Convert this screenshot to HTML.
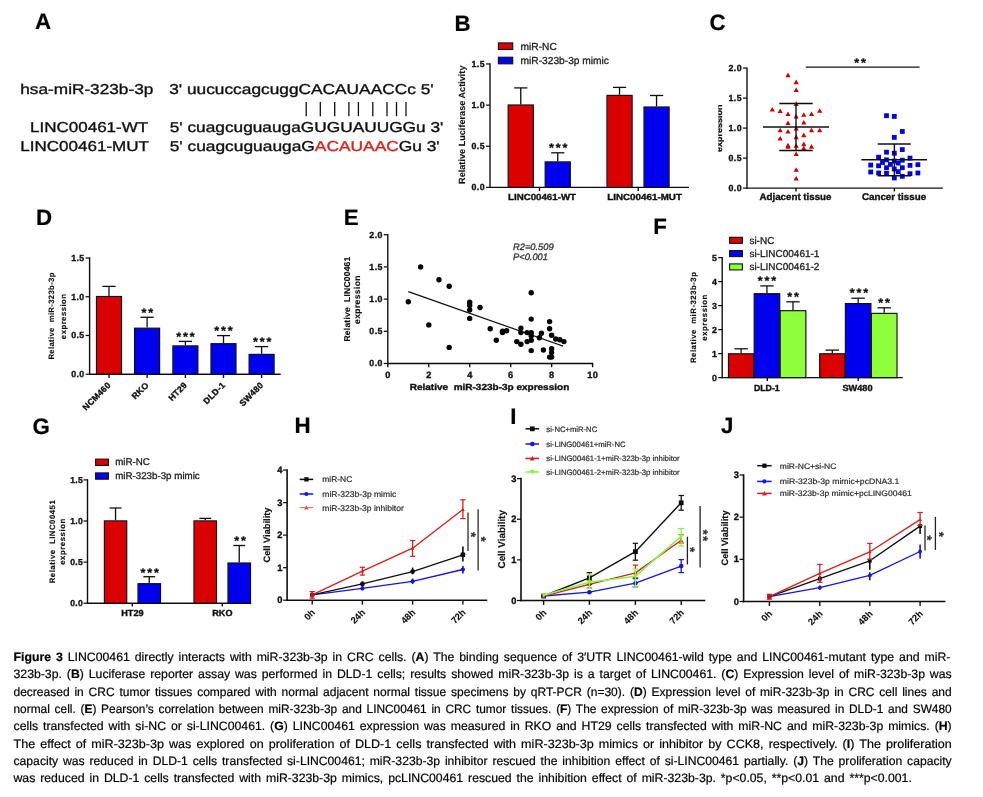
<!DOCTYPE html>
<html><head><meta charset="utf-8"><title>Figure 3</title>
<style>html,body{margin:0;padding:0;background:#fff;}svg{display:block;font-family:"Liberation Sans",sans-serif;}text{white-space:pre;text-rendering:geometricPrecision;}svg{will-change:transform;}</style></head><body>
<svg width="983" height="797" viewBox="0 0 983 797">
<rect x="0" y="0" width="983" height="797" fill="#ffffff"/>
<defs><filter id="soft" x="0" y="0" width="983" height="640" filterUnits="userSpaceOnUse"><feGaussianBlur stdDeviation="0.35"/></filter></defs>
<g filter="url(#soft)">
<text x="35.00" y="29.30" font-size="22.3" font-weight="bold" text-anchor="start" fill="#000" stroke="#000" stroke-width="0.2">A</text>
<text x="454.50" y="30.60" font-size="22.3" font-weight="bold" text-anchor="start" fill="#000" stroke="#000" stroke-width="0.2">B</text>
<text x="709.50" y="30.20" font-size="22.3" font-weight="bold" text-anchor="start" fill="#000" stroke="#000" stroke-width="0.2">C</text>
<text x="36.00" y="224.80" font-size="22.3" font-weight="bold" text-anchor="start" fill="#000" stroke="#000" stroke-width="0.2">D</text>
<text x="343.80" y="224.80" font-size="22.3" font-weight="bold" text-anchor="start" fill="#000" stroke="#000" stroke-width="0.2">E</text>
<text x="653.20" y="234.40" font-size="22.3" font-weight="bold" text-anchor="start" fill="#000" stroke="#000" stroke-width="0.2">F</text>
<text x="32.40" y="434.30" font-size="22.3" font-weight="bold" text-anchor="start" fill="#000" stroke="#000" stroke-width="0.2">G</text>
<text x="294.60" y="433.10" font-size="22.3" font-weight="bold" text-anchor="start" fill="#000" stroke="#000" stroke-width="0.2">H</text>
<text x="510.30" y="423.50" font-size="22.3" font-weight="bold" text-anchor="start" fill="#000" stroke="#000" stroke-width="0.2">I</text>
<text x="721.00" y="433.00" font-size="22.3" font-weight="bold" text-anchor="start" fill="#000" stroke="#000" stroke-width="0.2">J</text>
<text x="20.30" y="93.80" font-size="14.3" font-weight="normal" text-anchor="start" fill="#111" stroke="#111" stroke-width="0.35" textLength="133.00" lengthAdjust="spacingAndGlyphs">hsa-miR-323b-3p</text>
<text x="30.00" y="131.90" font-size="14.3" font-weight="normal" text-anchor="start" fill="#111" stroke="#111" stroke-width="0.35" textLength="118.20" lengthAdjust="spacingAndGlyphs">LINC00461-WT</text>
<text x="20.30" y="150.90" font-size="14.3" font-weight="normal" text-anchor="start" fill="#111" stroke="#111" stroke-width="0.35" textLength="128.70" lengthAdjust="spacingAndGlyphs">LINC00461-MUT</text>
<text x="169.20" y="93.80" font-size="14.3" font-weight="normal" text-anchor="start" fill="#111" stroke="#111" stroke-width="0.35" textLength="264.40" lengthAdjust="spacingAndGlyphs">3' uucuccagcuggCACAUAACCc 5'</text>
<text x="169.70" y="131.90" font-size="14.3" font-weight="normal" text-anchor="start" fill="#111" stroke="#111" stroke-width="0.35" textLength="273.70" lengthAdjust="spacingAndGlyphs">5' cuagcuguaugaGUGUAUUGGu 3'</text>
<text x="169.70" y="150.90" font-size="14.3" font-weight="normal" text-anchor="start" fill="#111" stroke="#111" stroke-width="0.35" textLength="270.00" lengthAdjust="spacingAndGlyphs">5' cuagcuguaugaG<tspan fill="#dc2020" stroke="#dc2020">ACAUAAC</tspan>Gu 3'</text>
<line x1="306.20" y1="102.00" x2="306.20" y2="116.20" stroke="#111" stroke-width="1.3" stroke-linecap="butt"/>
<line x1="320.30" y1="102.00" x2="320.30" y2="116.20" stroke="#111" stroke-width="1.3" stroke-linecap="butt"/>
<line x1="334.70" y1="102.00" x2="334.70" y2="116.20" stroke="#111" stroke-width="1.3" stroke-linecap="butt"/>
<line x1="348.90" y1="102.00" x2="348.90" y2="116.20" stroke="#111" stroke-width="1.3" stroke-linecap="butt"/>
<line x1="358.40" y1="102.00" x2="358.40" y2="116.20" stroke="#111" stroke-width="1.3" stroke-linecap="butt"/>
<line x1="372.80" y1="102.00" x2="372.80" y2="116.20" stroke="#111" stroke-width="1.3" stroke-linecap="butt"/>
<line x1="387.00" y1="102.00" x2="387.00" y2="116.20" stroke="#111" stroke-width="1.3" stroke-linecap="butt"/>
<line x1="396.50" y1="102.00" x2="396.50" y2="116.20" stroke="#111" stroke-width="1.3" stroke-linecap="butt"/>
<line x1="406.00" y1="102.00" x2="406.00" y2="116.20" stroke="#111" stroke-width="1.3" stroke-linecap="butt"/>
<line x1="490.00" y1="63.25" x2="490.00" y2="188.10" stroke="#111" stroke-width="1.4" stroke-linecap="butt"/>
<line x1="486.00" y1="63.95" x2="490.00" y2="63.95" stroke="#111" stroke-width="1.25" stroke-linecap="butt"/>
<text x="485.00" y="66.90" font-size="8.8" font-weight="bold" text-anchor="end" fill="#111" stroke="#111" stroke-width="0.36" letter-spacing="0.4">1.5</text>
<line x1="486.00" y1="105.10" x2="490.00" y2="105.10" stroke="#111" stroke-width="1.25" stroke-linecap="butt"/>
<text x="485.00" y="108.05" font-size="8.8" font-weight="bold" text-anchor="end" fill="#111" stroke="#111" stroke-width="0.36" letter-spacing="0.4">1.0</text>
<line x1="486.00" y1="146.25" x2="490.00" y2="146.25" stroke="#111" stroke-width="1.25" stroke-linecap="butt"/>
<text x="485.00" y="149.20" font-size="8.8" font-weight="bold" text-anchor="end" fill="#111" stroke="#111" stroke-width="0.36" letter-spacing="0.4">0.5</text>
<line x1="486.00" y1="187.40" x2="490.00" y2="187.40" stroke="#111" stroke-width="1.25" stroke-linecap="butt"/>
<text x="485.00" y="190.35" font-size="8.8" font-weight="bold" text-anchor="end" fill="#111" stroke="#111" stroke-width="0.36" letter-spacing="0.4">0.0</text>
<line x1="489.40" y1="187.40" x2="689.00" y2="187.40" stroke="#111" stroke-width="1.4" stroke-linecap="butt"/>
<line x1="539.50" y1="187.40" x2="539.50" y2="191.00" stroke="#111" stroke-width="1.4" stroke-linecap="butt"/>
<line x1="638.20" y1="187.40" x2="638.20" y2="191.00" stroke="#111" stroke-width="1.4" stroke-linecap="butt"/>
<line x1="520.75" y1="87.90" x2="520.75" y2="104.40" stroke="#111" stroke-width="1.3" stroke-linecap="butt"/>
<line x1="514.15" y1="87.90" x2="527.35" y2="87.90" stroke="#111" stroke-width="1.3" stroke-linecap="butt"/>
<rect x="508.18" y="104.97" width="25.15" height="82.43" fill="#da0000" stroke="#111" stroke-width="1.15"/>
<line x1="557.75" y1="152.80" x2="557.75" y2="161.30" stroke="#111" stroke-width="1.3" stroke-linecap="butt"/>
<line x1="551.15" y1="152.80" x2="564.35" y2="152.80" stroke="#111" stroke-width="1.3" stroke-linecap="butt"/>
<rect x="545.18" y="161.88" width="25.15" height="25.52" fill="#0000f0" stroke="#111" stroke-width="1.15"/>
<line x1="619.55" y1="87.40" x2="619.55" y2="94.80" stroke="#111" stroke-width="1.3" stroke-linecap="butt"/>
<line x1="612.95" y1="87.40" x2="626.15" y2="87.40" stroke="#111" stroke-width="1.3" stroke-linecap="butt"/>
<rect x="606.98" y="95.38" width="25.15" height="92.03" fill="#da0000" stroke="#111" stroke-width="1.15"/>
<line x1="656.55" y1="95.50" x2="656.55" y2="106.40" stroke="#111" stroke-width="1.3" stroke-linecap="butt"/>
<line x1="649.95" y1="95.50" x2="663.15" y2="95.50" stroke="#111" stroke-width="1.3" stroke-linecap="butt"/>
<rect x="643.98" y="106.97" width="25.15" height="80.43" fill="#0000f0" stroke="#111" stroke-width="1.15"/>
<text x="559.05" y="152.20" font-size="12.5" font-weight="bold" text-anchor="middle" fill="#111" stroke="#111" stroke-width="0.36" letter-spacing="1.9">***</text>
<text x="508.00" y="200.20" font-size="8.8" font-weight="bold" text-anchor="start" fill="#111" stroke="#111" stroke-width="0.36" textLength="68.00" lengthAdjust="spacingAndGlyphs">LINC00461-WT</text>
<text x="607.20" y="200.20" font-size="8.8" font-weight="bold" text-anchor="start" fill="#111" stroke="#111" stroke-width="0.36" textLength="74.80" lengthAdjust="spacingAndGlyphs">LINC00461-MUT</text>
<rect x="498.40" y="42.90" width="14.30" height="6.60" fill="#da0000" stroke="#111" stroke-width="1.1"/>
<rect x="498.40" y="57.20" width="14.30" height="6.60" fill="#0000f0" stroke="#111" stroke-width="1.1"/>
<text x="520.60" y="49.50" font-size="10.2" font-weight="normal" text-anchor="start" fill="#222" stroke="#222" stroke-width="0.3">miR-NC</text>
<text x="520.60" y="63.90" font-size="10.2" font-weight="normal" text-anchor="start" fill="#222" stroke="#222" stroke-width="0.3">miR-323b-3p mimic</text>
<text x="465.50" y="124.70" font-size="9.0" font-weight="bold" text-anchor="middle" fill="#111" stroke="#111" stroke-width="0.1" letter-spacing="0.06" transform="rotate(-90 465.50 124.70)">Relative Luciferase Activity</text>
<line x1="747.00" y1="67.40" x2="747.00" y2="188.80" stroke="#111" stroke-width="1.4" stroke-linecap="butt"/>
<line x1="743.00" y1="68.10" x2="747.00" y2="68.10" stroke="#111" stroke-width="1.25" stroke-linecap="butt"/>
<text x="742.00" y="71.05" font-size="8.8" font-weight="bold" text-anchor="end" fill="#111" stroke="#111" stroke-width="0.36" letter-spacing="0.4">2.0</text>
<line x1="743.00" y1="98.10" x2="747.00" y2="98.10" stroke="#111" stroke-width="1.25" stroke-linecap="butt"/>
<text x="742.00" y="101.05" font-size="8.8" font-weight="bold" text-anchor="end" fill="#111" stroke="#111" stroke-width="0.36" letter-spacing="0.4">1.5</text>
<line x1="743.00" y1="128.10" x2="747.00" y2="128.10" stroke="#111" stroke-width="1.25" stroke-linecap="butt"/>
<text x="742.00" y="131.05" font-size="8.8" font-weight="bold" text-anchor="end" fill="#111" stroke="#111" stroke-width="0.36" letter-spacing="0.4">1.0</text>
<line x1="743.00" y1="158.10" x2="747.00" y2="158.10" stroke="#111" stroke-width="1.25" stroke-linecap="butt"/>
<text x="742.00" y="161.05" font-size="8.8" font-weight="bold" text-anchor="end" fill="#111" stroke="#111" stroke-width="0.36" letter-spacing="0.4">0.5</text>
<line x1="743.00" y1="188.10" x2="747.00" y2="188.10" stroke="#111" stroke-width="1.25" stroke-linecap="butt"/>
<text x="742.00" y="191.05" font-size="8.8" font-weight="bold" text-anchor="end" fill="#111" stroke="#111" stroke-width="0.36" letter-spacing="0.4">0.0</text>
<line x1="746.40" y1="188.10" x2="942.80" y2="188.10" stroke="#111" stroke-width="1.4" stroke-linecap="butt"/>
<line x1="796.00" y1="188.10" x2="796.00" y2="191.50" stroke="#111" stroke-width="1.4" stroke-linecap="butt"/>
<line x1="894.40" y1="188.10" x2="894.40" y2="191.50" stroke="#111" stroke-width="1.4" stroke-linecap="butt"/>
<text x="795.50" y="200.30" font-size="9.6" font-weight="bold" text-anchor="middle" fill="#111" stroke="#111" stroke-width="0.36" textLength="72.00" lengthAdjust="spacingAndGlyphs">Adjacent tissue</text>
<text x="894.00" y="200.30" font-size="9.6" font-weight="bold" text-anchor="middle" fill="#111" stroke="#111" stroke-width="0.36" textLength="64.20" lengthAdjust="spacingAndGlyphs">Cancer tissue</text>
<clipPath id="cexp"><rect x="718.3" y="95" width="8" height="66"/></clipPath>
<g clip-path="url(#cexp)"><text x="0" y="0" font-size="9.0" font-weight="bold" text-anchor="middle" fill="#111" stroke="#111" stroke-width="0.3" transform="translate(722.4 128.2) rotate(-90)">expression</text></g>
<line x1="805.80" y1="67.20" x2="919.50" y2="67.20" stroke="#111" stroke-width="1.3" stroke-linecap="butt"/>
<text x="860.95" y="66.50" font-size="12.5" font-weight="bold" text-anchor="middle" fill="#111" stroke="#111" stroke-width="0.36" letter-spacing="1.9">**</text>
<path d="M788.0 72.6 L790.6 77.2 L785.4 77.2 Z" fill="#cc0000"/>
<path d="M796.2 79.6 L798.8 84.2 L793.6 84.2 Z" fill="#cc0000"/>
<path d="M796.2 87.5 L798.8 92.1 L793.6 92.1 Z" fill="#cc0000"/>
<path d="M796.2 101.3 L798.8 105.9 L793.6 105.9 Z" fill="#cc0000"/>
<path d="M772.3 106.9 L774.9 111.5 L769.7 111.5 Z" fill="#cc0000"/>
<path d="M780.2 108.5 L782.8 113.1 L777.6 113.1 Z" fill="#cc0000"/>
<path d="M819.7 108.2 L822.3 112.8 L817.1 112.8 Z" fill="#cc0000"/>
<path d="M788.0 111.4 L790.6 116.0 L785.4 116.0 Z" fill="#cc0000"/>
<path d="M803.8 112.2 L806.4 116.8 L801.2 116.8 Z" fill="#cc0000"/>
<path d="M811.5 111.4 L814.1 116.0 L808.9 116.0 Z" fill="#cc0000"/>
<path d="M796.2 113.9 L798.8 118.5 L793.6 118.5 Z" fill="#cc0000"/>
<path d="M788.0 120.4 L790.6 125.0 L785.4 125.0 Z" fill="#cc0000"/>
<path d="M803.8 119.9 L806.4 124.5 L801.2 124.5 Z" fill="#cc0000"/>
<path d="M796.2 125.8 L798.8 130.4 L793.6 130.4 Z" fill="#cc0000"/>
<path d="M780.2 127.7 L782.8 132.3 L777.6 132.3 Z" fill="#cc0000"/>
<path d="M788.0 129.0 L790.6 133.6 L785.4 133.6 Z" fill="#cc0000"/>
<path d="M811.5 127.7 L814.1 132.3 L808.9 132.3 Z" fill="#cc0000"/>
<path d="M819.7 127.7 L822.3 132.3 L817.1 132.3 Z" fill="#cc0000"/>
<path d="M803.8 132.6 L806.4 137.2 L801.2 137.2 Z" fill="#cc0000"/>
<path d="M796.2 134.6 L798.8 139.2 L793.6 139.2 Z" fill="#cc0000"/>
<path d="M780.2 135.9 L782.8 140.5 L777.6 140.5 Z" fill="#cc0000"/>
<path d="M788.0 142.8 L790.6 147.4 L785.4 147.4 Z" fill="#cc0000"/>
<path d="M788.0 144.1 L790.6 148.7 L785.4 148.7 Z" fill="#cc0000"/>
<path d="M796.2 143.2 L798.8 147.8 L793.6 147.8 Z" fill="#cc0000"/>
<path d="M803.8 141.6 L806.4 146.2 L801.2 146.2 Z" fill="#cc0000"/>
<path d="M803.8 145.7 L806.4 150.3 L801.2 150.3 Z" fill="#cc0000"/>
<path d="M811.5 144.1 L814.1 148.7 L808.9 148.7 Z" fill="#cc0000"/>
<path d="M796.2 151.4 L798.8 156.0 L793.6 156.0 Z" fill="#cc0000"/>
<path d="M796.2 167.2 L798.8 171.8 L793.6 171.8 Z" fill="#cc0000"/>
<path d="M796.2 175.9 L798.8 180.5 L793.6 180.5 Z" fill="#cc0000"/>
<rect x="884.1" y="113.3" width="4.8" height="4.8" fill="#0000e6"/>
<rect x="891.9" y="114.0" width="4.8" height="4.8" fill="#0000e6"/>
<rect x="899.9" y="129.1" width="4.8" height="4.8" fill="#0000e6"/>
<rect x="891.9" y="135.0" width="4.8" height="4.8" fill="#0000e6"/>
<rect x="899.9" y="147.2" width="4.8" height="4.8" fill="#0000e6"/>
<rect x="884.1" y="149.8" width="4.8" height="4.8" fill="#0000e6"/>
<rect x="891.9" y="150.8" width="4.8" height="4.8" fill="#0000e6"/>
<rect x="876.2" y="154.8" width="4.8" height="4.8" fill="#0000e6"/>
<rect x="907.6" y="155.7" width="4.8" height="4.8" fill="#0000e6"/>
<rect x="884.1" y="157.4" width="4.8" height="4.8" fill="#0000e6"/>
<rect x="899.9" y="157.8" width="4.8" height="4.8" fill="#0000e6"/>
<rect x="891.9" y="158.7" width="4.8" height="4.8" fill="#0000e6"/>
<rect x="880.1" y="160.1" width="4.8" height="4.8" fill="#0000e6"/>
<rect x="895.8" y="160.7" width="4.8" height="4.8" fill="#0000e6"/>
<rect x="868.3" y="162.7" width="4.8" height="4.8" fill="#0000e6"/>
<rect x="876.2" y="163.4" width="4.8" height="4.8" fill="#0000e6"/>
<rect x="888.0" y="162.0" width="4.8" height="4.8" fill="#0000e6"/>
<rect x="907.6" y="163.0" width="4.8" height="4.8" fill="#0000e6"/>
<rect x="915.5" y="162.3" width="4.8" height="4.8" fill="#0000e6"/>
<rect x="884.1" y="165.3" width="4.8" height="4.8" fill="#0000e6"/>
<rect x="899.9" y="165.3" width="4.8" height="4.8" fill="#0000e6"/>
<rect x="891.9" y="166.6" width="4.8" height="4.8" fill="#0000e6"/>
<rect x="868.3" y="169.6" width="4.8" height="4.8" fill="#0000e6"/>
<rect x="876.2" y="170.6" width="4.8" height="4.8" fill="#0000e6"/>
<rect x="884.1" y="170.9" width="4.8" height="4.8" fill="#0000e6"/>
<rect x="895.8" y="169.3" width="4.8" height="4.8" fill="#0000e6"/>
<rect x="907.6" y="171.3" width="4.8" height="4.8" fill="#0000e6"/>
<rect x="915.5" y="170.6" width="4.8" height="4.8" fill="#0000e6"/>
<rect x="899.9" y="173.9" width="4.8" height="4.8" fill="#0000e6"/>
<rect x="891.9" y="175.6" width="4.8" height="4.8" fill="#0000e6"/>
<line x1="763.00" y1="127.00" x2="829.00" y2="127.00" stroke="#111" stroke-width="1.4" stroke-linecap="butt"/>
<line x1="779.30" y1="103.50" x2="812.70" y2="103.50" stroke="#111" stroke-width="1.4" stroke-linecap="butt"/>
<line x1="779.30" y1="150.50" x2="812.70" y2="150.50" stroke="#111" stroke-width="1.4" stroke-linecap="butt"/>
<line x1="796.00" y1="103.50" x2="796.00" y2="150.50" stroke="#111" stroke-width="1.4" stroke-linecap="butt"/>
<line x1="861.30" y1="159.80" x2="927.00" y2="159.80" stroke="#111" stroke-width="1.4" stroke-linecap="butt"/>
<line x1="877.70" y1="144.00" x2="910.80" y2="144.00" stroke="#111" stroke-width="1.4" stroke-linecap="butt"/>
<line x1="877.70" y1="175.70" x2="910.80" y2="175.70" stroke="#111" stroke-width="1.4" stroke-linecap="butt"/>
<line x1="894.40" y1="144.00" x2="894.40" y2="175.70" stroke="#111" stroke-width="1.4" stroke-linecap="butt"/>
<line x1="89.60" y1="257.32" x2="89.60" y2="374.90" stroke="#111" stroke-width="1.4" stroke-linecap="butt"/>
<line x1="85.60" y1="258.02" x2="89.60" y2="258.02" stroke="#111" stroke-width="1.25" stroke-linecap="butt"/>
<text x="84.60" y="260.97" font-size="8.8" font-weight="bold" text-anchor="end" fill="#111" stroke="#111" stroke-width="0.36" letter-spacing="0.4">1.5</text>
<line x1="85.60" y1="296.75" x2="89.60" y2="296.75" stroke="#111" stroke-width="1.25" stroke-linecap="butt"/>
<text x="84.60" y="299.70" font-size="8.8" font-weight="bold" text-anchor="end" fill="#111" stroke="#111" stroke-width="0.36" letter-spacing="0.4">1.0</text>
<line x1="85.60" y1="335.47" x2="89.60" y2="335.47" stroke="#111" stroke-width="1.25" stroke-linecap="butt"/>
<text x="84.60" y="338.42" font-size="8.8" font-weight="bold" text-anchor="end" fill="#111" stroke="#111" stroke-width="0.36" letter-spacing="0.4">0.5</text>
<line x1="85.60" y1="374.20" x2="89.60" y2="374.20" stroke="#111" stroke-width="1.25" stroke-linecap="butt"/>
<text x="84.60" y="377.15" font-size="8.8" font-weight="bold" text-anchor="end" fill="#111" stroke="#111" stroke-width="0.36" letter-spacing="0.4">0.0</text>
<line x1="89.00" y1="374.20" x2="280.70" y2="374.20" stroke="#111" stroke-width="1.4" stroke-linecap="butt"/>
<line x1="109.00" y1="286.40" x2="109.00" y2="295.90" stroke="#111" stroke-width="1.3" stroke-linecap="butt"/>
<line x1="102.40" y1="286.40" x2="115.60" y2="286.40" stroke="#111" stroke-width="1.3" stroke-linecap="butt"/>
<rect x="96.47" y="296.48" width="25.05" height="77.72" fill="#da0000" stroke="#111" stroke-width="1.15"/>
<line x1="109.00" y1="374.20" x2="109.00" y2="378.00" stroke="#111" stroke-width="1.4" stroke-linecap="butt"/>
<text x="111.30" y="385.70" font-size="8.6" font-weight="bold" text-anchor="end" fill="#111" stroke="#111" stroke-width="0.36" letter-spacing="0.3" transform="rotate(-45 111.30 385.70)">NCM460</text>
<line x1="147.10" y1="317.30" x2="147.10" y2="327.60" stroke="#111" stroke-width="1.3" stroke-linecap="butt"/>
<line x1="140.50" y1="317.30" x2="153.70" y2="317.30" stroke="#111" stroke-width="1.3" stroke-linecap="butt"/>
<rect x="134.57" y="328.18" width="25.05" height="46.02" fill="#0000f0" stroke="#111" stroke-width="1.15"/>
<line x1="147.10" y1="374.20" x2="147.10" y2="378.00" stroke="#111" stroke-width="1.4" stroke-linecap="butt"/>
<text x="149.40" y="385.70" font-size="8.6" font-weight="bold" text-anchor="end" fill="#111" stroke="#111" stroke-width="0.36" letter-spacing="0.3" transform="rotate(-45 149.40 385.70)">RKO</text>
<line x1="185.40" y1="341.40" x2="185.40" y2="345.30" stroke="#111" stroke-width="1.3" stroke-linecap="butt"/>
<line x1="178.80" y1="341.40" x2="192.00" y2="341.40" stroke="#111" stroke-width="1.3" stroke-linecap="butt"/>
<rect x="172.87" y="345.88" width="25.05" height="28.32" fill="#0000f0" stroke="#111" stroke-width="1.15"/>
<line x1="185.40" y1="374.20" x2="185.40" y2="378.00" stroke="#111" stroke-width="1.4" stroke-linecap="butt"/>
<text x="187.70" y="385.70" font-size="8.6" font-weight="bold" text-anchor="end" fill="#111" stroke="#111" stroke-width="0.36" letter-spacing="0.3" transform="rotate(-45 187.70 385.70)">HT29</text>
<line x1="223.50" y1="335.60" x2="223.50" y2="343.10" stroke="#111" stroke-width="1.3" stroke-linecap="butt"/>
<line x1="216.90" y1="335.60" x2="230.10" y2="335.60" stroke="#111" stroke-width="1.3" stroke-linecap="butt"/>
<rect x="210.97" y="343.68" width="25.05" height="30.52" fill="#0000f0" stroke="#111" stroke-width="1.15"/>
<line x1="223.50" y1="374.20" x2="223.50" y2="378.00" stroke="#111" stroke-width="1.4" stroke-linecap="butt"/>
<text x="225.80" y="385.70" font-size="8.6" font-weight="bold" text-anchor="end" fill="#111" stroke="#111" stroke-width="0.36" letter-spacing="0.3" transform="rotate(-45 225.80 385.70)">DLD-1</text>
<line x1="261.60" y1="346.60" x2="261.60" y2="353.80" stroke="#111" stroke-width="1.3" stroke-linecap="butt"/>
<line x1="255.00" y1="346.60" x2="268.20" y2="346.60" stroke="#111" stroke-width="1.3" stroke-linecap="butt"/>
<rect x="249.07" y="354.38" width="25.05" height="19.82" fill="#0000f0" stroke="#111" stroke-width="1.15"/>
<line x1="261.60" y1="374.20" x2="261.60" y2="378.00" stroke="#111" stroke-width="1.4" stroke-linecap="butt"/>
<text x="263.90" y="385.70" font-size="8.6" font-weight="bold" text-anchor="end" fill="#111" stroke="#111" stroke-width="0.36" letter-spacing="0.3" transform="rotate(-45 263.90 385.70)">SW480</text>
<text x="148.35" y="317.20" font-size="12.5" font-weight="bold" text-anchor="middle" fill="#111" stroke="#111" stroke-width="0.36" letter-spacing="1.9">**</text>
<text x="186.45" y="341.20" font-size="12.5" font-weight="bold" text-anchor="middle" fill="#111" stroke="#111" stroke-width="0.36" letter-spacing="1.9">***</text>
<text x="224.45" y="335.10" font-size="12.5" font-weight="bold" text-anchor="middle" fill="#111" stroke="#111" stroke-width="0.36" letter-spacing="1.9">***</text>
<text x="263.15" y="345.60" font-size="12.5" font-weight="bold" text-anchor="middle" fill="#111" stroke="#111" stroke-width="0.36" letter-spacing="1.9">***</text>
<text x="54.40" y="315.90" font-size="7.8" font-weight="bold" text-anchor="middle" fill="#111" stroke="#111" stroke-width="0.1" letter-spacing="0.3" transform="rotate(-90 54.40 315.90)">Relative  miR-323b-3p</text>
<text x="65.60" y="316.30" font-size="7.8" font-weight="bold" text-anchor="middle" fill="#111" stroke="#111" stroke-width="0.1" letter-spacing="0.45" transform="rotate(-90 65.60 316.30)">expression</text>
<line x1="387.80" y1="234.00" x2="387.80" y2="364.20" stroke="#111" stroke-width="1.4" stroke-linecap="butt"/>
<line x1="383.80" y1="234.70" x2="387.80" y2="234.70" stroke="#111" stroke-width="1.25" stroke-linecap="butt"/>
<text x="382.80" y="237.65" font-size="8.8" font-weight="bold" text-anchor="end" fill="#111" stroke="#111" stroke-width="0.36" letter-spacing="0.4">2.0</text>
<line x1="383.80" y1="266.90" x2="387.80" y2="266.90" stroke="#111" stroke-width="1.25" stroke-linecap="butt"/>
<text x="382.80" y="269.85" font-size="8.8" font-weight="bold" text-anchor="end" fill="#111" stroke="#111" stroke-width="0.36" letter-spacing="0.4">1.5</text>
<line x1="383.80" y1="299.10" x2="387.80" y2="299.10" stroke="#111" stroke-width="1.25" stroke-linecap="butt"/>
<text x="382.80" y="302.05" font-size="8.8" font-weight="bold" text-anchor="end" fill="#111" stroke="#111" stroke-width="0.36" letter-spacing="0.4">1.0</text>
<line x1="383.80" y1="331.30" x2="387.80" y2="331.30" stroke="#111" stroke-width="1.25" stroke-linecap="butt"/>
<text x="382.80" y="334.25" font-size="8.8" font-weight="bold" text-anchor="end" fill="#111" stroke="#111" stroke-width="0.36" letter-spacing="0.4">0.5</text>
<line x1="383.80" y1="363.50" x2="387.80" y2="363.50" stroke="#111" stroke-width="1.25" stroke-linecap="butt"/>
<text x="382.80" y="366.45" font-size="8.8" font-weight="bold" text-anchor="end" fill="#111" stroke="#111" stroke-width="0.36" letter-spacing="0.4">0.0</text>
<line x1="387.20" y1="363.50" x2="593.20" y2="363.50" stroke="#111" stroke-width="1.4" stroke-linecap="butt"/>
<line x1="387.80" y1="363.50" x2="387.80" y2="367.20" stroke="#111" stroke-width="1.4" stroke-linecap="butt"/>
<text x="388.00" y="378.30" font-size="9.2" font-weight="bold" text-anchor="middle" fill="#111" stroke="#111" stroke-width="0.36" letter-spacing="0.4">0</text>
<line x1="428.76" y1="363.50" x2="428.76" y2="367.20" stroke="#111" stroke-width="1.4" stroke-linecap="butt"/>
<text x="428.96" y="378.30" font-size="9.2" font-weight="bold" text-anchor="middle" fill="#111" stroke="#111" stroke-width="0.36" letter-spacing="0.4">2</text>
<line x1="469.72" y1="363.50" x2="469.72" y2="367.20" stroke="#111" stroke-width="1.4" stroke-linecap="butt"/>
<text x="469.92" y="378.30" font-size="9.2" font-weight="bold" text-anchor="middle" fill="#111" stroke="#111" stroke-width="0.36" letter-spacing="0.4">4</text>
<line x1="510.68" y1="363.50" x2="510.68" y2="367.20" stroke="#111" stroke-width="1.4" stroke-linecap="butt"/>
<text x="510.88" y="378.30" font-size="9.2" font-weight="bold" text-anchor="middle" fill="#111" stroke="#111" stroke-width="0.36" letter-spacing="0.4">6</text>
<line x1="551.64" y1="363.50" x2="551.64" y2="367.20" stroke="#111" stroke-width="1.4" stroke-linecap="butt"/>
<text x="551.84" y="378.30" font-size="9.2" font-weight="bold" text-anchor="middle" fill="#111" stroke="#111" stroke-width="0.36" letter-spacing="0.4">8</text>
<line x1="592.60" y1="363.50" x2="592.60" y2="367.20" stroke="#111" stroke-width="1.4" stroke-linecap="butt"/>
<text x="592.80" y="378.30" font-size="9.2" font-weight="bold" text-anchor="middle" fill="#111" stroke="#111" stroke-width="0.36" letter-spacing="0.4">10</text>
<text x="489.50" y="390.20" font-size="8.8" font-weight="bold" text-anchor="middle" fill="#111" stroke="#111" stroke-width="0.36" textLength="159.50" lengthAdjust="spacingAndGlyphs">Relative  miR-323b-3p expression</text>
<text x="349.50" y="299.00" font-size="8.5" font-weight="bold" text-anchor="middle" fill="#111" stroke="#111" stroke-width="0.15" letter-spacing="0.22" transform="rotate(-90 349.50 299.00)">Relative  LINC00461</text>
<text x="359.60" y="299.50" font-size="8.5" font-weight="bold" text-anchor="middle" fill="#111" stroke="#111" stroke-width="0.15" letter-spacing="0.4" transform="rotate(-90 359.60 299.50)">expression</text>
<text x="513.00" y="249.60" font-size="9.3" font-weight="normal" text-anchor="start" fill="#333" stroke="#333" stroke-width="0.3" font-style="italic">R2=0.509</text>
<text x="513.00" y="260.40" font-size="9.3" font-weight="normal" text-anchor="start" fill="#333" stroke="#333" stroke-width="0.3" font-style="italic">P&lt;0.001</text>
<line x1="408.30" y1="291.70" x2="563.00" y2="346.10" stroke="#111" stroke-width="1.25" stroke-linecap="butt"/>
<circle cx="408.3" cy="301.7" r="2.7" fill="#000"/>
<circle cx="420.6" cy="266.9" r="2.7" fill="#000"/>
<circle cx="428.8" cy="324.9" r="2.7" fill="#000"/>
<circle cx="439.0" cy="279.8" r="2.7" fill="#000"/>
<circle cx="449.2" cy="286.2" r="2.7" fill="#000"/>
<circle cx="449.2" cy="347.4" r="2.7" fill="#000"/>
<circle cx="469.7" cy="302.3" r="2.7" fill="#000"/>
<circle cx="469.7" cy="305.5" r="2.7" fill="#000"/>
<circle cx="469.7" cy="310.0" r="2.7" fill="#000"/>
<circle cx="469.7" cy="318.4" r="2.7" fill="#000"/>
<circle cx="480.0" cy="307.5" r="2.7" fill="#000"/>
<circle cx="490.2" cy="328.7" r="2.7" fill="#000"/>
<circle cx="496.3" cy="340.3" r="2.7" fill="#000"/>
<circle cx="502.5" cy="331.3" r="2.7" fill="#000"/>
<circle cx="502.5" cy="332.6" r="2.7" fill="#000"/>
<circle cx="506.6" cy="330.7" r="2.7" fill="#000"/>
<circle cx="516.8" cy="341.6" r="2.7" fill="#000"/>
<circle cx="520.9" cy="328.1" r="2.7" fill="#000"/>
<circle cx="520.9" cy="332.6" r="2.7" fill="#000"/>
<circle cx="520.9" cy="344.2" r="2.7" fill="#000"/>
<circle cx="527.1" cy="332.6" r="2.7" fill="#000"/>
<circle cx="527.1" cy="341.6" r="2.7" fill="#000"/>
<circle cx="531.2" cy="292.7" r="2.7" fill="#000"/>
<circle cx="531.2" cy="319.1" r="2.7" fill="#000"/>
<circle cx="531.2" cy="332.6" r="2.7" fill="#000"/>
<circle cx="531.2" cy="335.8" r="2.7" fill="#000"/>
<circle cx="531.2" cy="340.3" r="2.7" fill="#000"/>
<circle cx="531.2" cy="350.6" r="2.7" fill="#000"/>
<circle cx="539.4" cy="337.7" r="2.7" fill="#000"/>
<circle cx="541.4" cy="333.2" r="2.7" fill="#000"/>
<circle cx="543.4" cy="350.0" r="2.7" fill="#000"/>
<circle cx="549.6" cy="321.6" r="2.7" fill="#000"/>
<circle cx="549.6" cy="328.7" r="2.7" fill="#000"/>
<circle cx="551.6" cy="335.2" r="2.7" fill="#000"/>
<circle cx="551.6" cy="348.7" r="2.7" fill="#000"/>
<circle cx="551.6" cy="352.6" r="2.7" fill="#000"/>
<circle cx="549.6" cy="357.1" r="2.7" fill="#000"/>
<circle cx="551.6" cy="357.1" r="2.7" fill="#000"/>
<circle cx="555.7" cy="339.0" r="2.7" fill="#000"/>
<circle cx="559.8" cy="339.7" r="2.7" fill="#000"/>
<circle cx="563.9" cy="341.6" r="2.7" fill="#000"/>
<line x1="722.20" y1="256.90" x2="722.20" y2="378.30" stroke="#111" stroke-width="1.4" stroke-linecap="butt"/>
<line x1="718.20" y1="257.60" x2="722.20" y2="257.60" stroke="#111" stroke-width="1.25" stroke-linecap="butt"/>
<text x="717.20" y="260.55" font-size="8.8" font-weight="bold" text-anchor="end" fill="#111" stroke="#111" stroke-width="0.36" letter-spacing="0.4">5</text>
<line x1="718.20" y1="281.60" x2="722.20" y2="281.60" stroke="#111" stroke-width="1.25" stroke-linecap="butt"/>
<text x="717.20" y="284.55" font-size="8.8" font-weight="bold" text-anchor="end" fill="#111" stroke="#111" stroke-width="0.36" letter-spacing="0.4">4</text>
<line x1="718.20" y1="305.60" x2="722.20" y2="305.60" stroke="#111" stroke-width="1.25" stroke-linecap="butt"/>
<text x="717.20" y="308.55" font-size="8.8" font-weight="bold" text-anchor="end" fill="#111" stroke="#111" stroke-width="0.36" letter-spacing="0.4">3</text>
<line x1="718.20" y1="329.60" x2="722.20" y2="329.60" stroke="#111" stroke-width="1.25" stroke-linecap="butt"/>
<text x="717.20" y="332.55" font-size="8.8" font-weight="bold" text-anchor="end" fill="#111" stroke="#111" stroke-width="0.36" letter-spacing="0.4">2</text>
<line x1="718.20" y1="353.60" x2="722.20" y2="353.60" stroke="#111" stroke-width="1.25" stroke-linecap="butt"/>
<text x="717.20" y="356.55" font-size="8.8" font-weight="bold" text-anchor="end" fill="#111" stroke="#111" stroke-width="0.36" letter-spacing="0.4">1</text>
<line x1="718.20" y1="377.60" x2="722.20" y2="377.60" stroke="#111" stroke-width="1.25" stroke-linecap="butt"/>
<text x="717.20" y="380.55" font-size="8.8" font-weight="bold" text-anchor="end" fill="#111" stroke="#111" stroke-width="0.36" letter-spacing="0.4">0</text>
<line x1="721.60" y1="377.60" x2="902.70" y2="377.60" stroke="#111" stroke-width="1.4" stroke-linecap="butt"/>
<line x1="767.30" y1="377.60" x2="767.30" y2="381.00" stroke="#111" stroke-width="1.4" stroke-linecap="butt"/>
<line x1="858.20" y1="377.60" x2="858.20" y2="381.00" stroke="#111" stroke-width="1.4" stroke-linecap="butt"/>
<line x1="741.10" y1="348.80" x2="741.10" y2="353.20" stroke="#111" stroke-width="1.3" stroke-linecap="butt"/>
<line x1="734.40" y1="348.80" x2="747.80" y2="348.80" stroke="#111" stroke-width="1.3" stroke-linecap="butt"/>
<rect x="728.48" y="353.77" width="25.25" height="23.83" fill="#da0000" stroke="#111" stroke-width="1.15"/>
<line x1="766.95" y1="285.90" x2="766.95" y2="293.10" stroke="#111" stroke-width="1.3" stroke-linecap="butt"/>
<line x1="760.25" y1="285.90" x2="773.65" y2="285.90" stroke="#111" stroke-width="1.3" stroke-linecap="butt"/>
<rect x="754.18" y="293.68" width="25.55" height="83.92" fill="#0000f0" stroke="#111" stroke-width="1.15"/>
<line x1="793.00" y1="301.80" x2="793.00" y2="310.10" stroke="#111" stroke-width="1.3" stroke-linecap="butt"/>
<line x1="786.30" y1="301.80" x2="799.70" y2="301.80" stroke="#111" stroke-width="1.3" stroke-linecap="butt"/>
<rect x="780.18" y="310.68" width="25.65" height="66.92" fill="#90ff3a" stroke="#111" stroke-width="1.15"/>
<line x1="832.30" y1="350.10" x2="832.30" y2="353.20" stroke="#111" stroke-width="1.3" stroke-linecap="butt"/>
<line x1="825.60" y1="350.10" x2="839.00" y2="350.10" stroke="#111" stroke-width="1.3" stroke-linecap="butt"/>
<rect x="819.68" y="353.77" width="25.25" height="23.83" fill="#da0000" stroke="#111" stroke-width="1.15"/>
<line x1="858.15" y1="298.20" x2="858.15" y2="303.00" stroke="#111" stroke-width="1.3" stroke-linecap="butt"/>
<line x1="851.45" y1="298.20" x2="864.85" y2="298.20" stroke="#111" stroke-width="1.3" stroke-linecap="butt"/>
<rect x="845.38" y="303.57" width="25.55" height="74.03" fill="#0000f0" stroke="#111" stroke-width="1.15"/>
<line x1="884.20" y1="307.80" x2="884.20" y2="312.80" stroke="#111" stroke-width="1.3" stroke-linecap="butt"/>
<line x1="877.50" y1="307.80" x2="890.90" y2="307.80" stroke="#111" stroke-width="1.3" stroke-linecap="butt"/>
<rect x="871.38" y="313.38" width="25.65" height="64.23" fill="#90ff3a" stroke="#111" stroke-width="1.15"/>
<text x="767.95" y="285.00" font-size="12.5" font-weight="bold" text-anchor="middle" fill="#111" stroke="#111" stroke-width="0.36" letter-spacing="1.9">***</text>
<text x="793.95" y="301.40" font-size="12.5" font-weight="bold" text-anchor="middle" fill="#111" stroke="#111" stroke-width="0.36" letter-spacing="1.9">**</text>
<text x="859.95" y="297.30" font-size="12.5" font-weight="bold" text-anchor="middle" fill="#111" stroke="#111" stroke-width="0.36" letter-spacing="1.9">***</text>
<text x="884.95" y="307.00" font-size="12.5" font-weight="bold" text-anchor="middle" fill="#111" stroke="#111" stroke-width="0.36" letter-spacing="1.9">**</text>
<text x="766.80" y="390.90" font-size="8.8" font-weight="bold" text-anchor="middle" fill="#111" stroke="#111" stroke-width="0.36" textLength="25.80" lengthAdjust="spacingAndGlyphs">DLD-1</text>
<text x="857.50" y="390.90" font-size="8.8" font-weight="bold" text-anchor="middle" fill="#111" stroke="#111" stroke-width="0.36" textLength="30.20" lengthAdjust="spacingAndGlyphs">SW480</text>
<rect x="729.60" y="237.30" width="12.80" height="6.00" fill="#da0000" stroke="#111" stroke-width="1.1"/>
<rect x="729.60" y="250.60" width="12.80" height="6.00" fill="#0000f0" stroke="#111" stroke-width="1.1"/>
<rect x="729.60" y="263.90" width="12.80" height="6.00" fill="#90ff3a" stroke="#111" stroke-width="1.1"/>
<text x="749.40" y="243.60" font-size="10.0" font-weight="normal" text-anchor="start" fill="#222" stroke="#222" stroke-width="0.3">si-NC</text>
<text x="749.40" y="256.90" font-size="10.0" font-weight="normal" text-anchor="start" fill="#222" stroke="#222" stroke-width="0.3">si-LINC00461-1</text>
<text x="749.40" y="270.20" font-size="10.0" font-weight="normal" text-anchor="start" fill="#222" stroke="#222" stroke-width="0.3">si-LINC00461-2</text>
<text x="695.90" y="317.30" font-size="7.8" font-weight="bold" text-anchor="middle" fill="#111" stroke="#111" stroke-width="0.15" letter-spacing="0.5" transform="rotate(-90 695.90 317.30)">Relative  miR-323b-3p</text>
<text x="706.90" y="317.40" font-size="7.8" font-weight="bold" text-anchor="middle" fill="#111" stroke="#111" stroke-width="0.15" letter-spacing="0.55" transform="rotate(-90 706.90 317.40)">expression</text>
<line x1="87.50" y1="479.20" x2="87.50" y2="603.90" stroke="#111" stroke-width="1.4" stroke-linecap="butt"/>
<line x1="83.50" y1="479.90" x2="87.50" y2="479.90" stroke="#111" stroke-width="1.25" stroke-linecap="butt"/>
<text x="82.90" y="482.78" font-size="8.6" font-weight="bold" text-anchor="end" fill="#111" stroke="#111" stroke-width="0.36" letter-spacing="0.2">1.5</text>
<line x1="83.50" y1="521.00" x2="87.50" y2="521.00" stroke="#111" stroke-width="1.25" stroke-linecap="butt"/>
<text x="82.90" y="523.88" font-size="8.6" font-weight="bold" text-anchor="end" fill="#111" stroke="#111" stroke-width="0.36" letter-spacing="0.2">1.0</text>
<line x1="83.50" y1="562.10" x2="87.50" y2="562.10" stroke="#111" stroke-width="1.25" stroke-linecap="butt"/>
<text x="82.90" y="564.98" font-size="8.6" font-weight="bold" text-anchor="end" fill="#111" stroke="#111" stroke-width="0.36" letter-spacing="0.2">0.5</text>
<line x1="83.50" y1="603.20" x2="87.50" y2="603.20" stroke="#111" stroke-width="1.25" stroke-linecap="butt"/>
<text x="82.90" y="606.08" font-size="8.6" font-weight="bold" text-anchor="end" fill="#111" stroke="#111" stroke-width="0.36" letter-spacing="0.2">0.0</text>
<line x1="86.90" y1="603.20" x2="251.20" y2="603.20" stroke="#111" stroke-width="1.4" stroke-linecap="butt"/>
<line x1="132.30" y1="603.20" x2="132.30" y2="606.60" stroke="#111" stroke-width="1.4" stroke-linecap="butt"/>
<line x1="222.30" y1="603.20" x2="222.30" y2="606.60" stroke="#111" stroke-width="1.4" stroke-linecap="butt"/>
<line x1="115.55" y1="508.00" x2="115.55" y2="520.30" stroke="#111" stroke-width="1.3" stroke-linecap="butt"/>
<line x1="109.65" y1="508.00" x2="121.45" y2="508.00" stroke="#111" stroke-width="1.3" stroke-linecap="butt"/>
<rect x="104.38" y="520.88" width="22.35" height="82.33" fill="#da0000" stroke="#111" stroke-width="1.15"/>
<line x1="149.25" y1="576.70" x2="149.25" y2="583.10" stroke="#111" stroke-width="1.3" stroke-linecap="butt"/>
<line x1="143.35" y1="576.70" x2="155.15" y2="576.70" stroke="#111" stroke-width="1.3" stroke-linecap="butt"/>
<rect x="137.97" y="583.67" width="22.55" height="19.53" fill="#0000f0" stroke="#111" stroke-width="1.15"/>
<line x1="205.25" y1="518.40" x2="205.25" y2="520.30" stroke="#111" stroke-width="1.3" stroke-linecap="butt"/>
<line x1="199.35" y1="518.40" x2="211.15" y2="518.40" stroke="#111" stroke-width="1.3" stroke-linecap="butt"/>
<rect x="193.97" y="520.88" width="22.55" height="82.33" fill="#da0000" stroke="#111" stroke-width="1.15"/>
<line x1="239.25" y1="545.50" x2="239.25" y2="562.40" stroke="#111" stroke-width="1.3" stroke-linecap="butt"/>
<line x1="233.35" y1="545.50" x2="245.15" y2="545.50" stroke="#111" stroke-width="1.3" stroke-linecap="butt"/>
<rect x="227.97" y="562.98" width="22.55" height="40.23" fill="#0000f0" stroke="#111" stroke-width="1.15"/>
<text x="150.65" y="576.80" font-size="12.5" font-weight="bold" text-anchor="middle" fill="#111" stroke="#111" stroke-width="0.36" letter-spacing="1.9">***</text>
<text x="241.05" y="545.00" font-size="12.5" font-weight="bold" text-anchor="middle" fill="#111" stroke="#111" stroke-width="0.36" letter-spacing="1.9">**</text>
<text x="132.40" y="615.70" font-size="8.8" font-weight="bold" text-anchor="middle" fill="#111" stroke="#111" stroke-width="0.36" textLength="22.30" lengthAdjust="spacingAndGlyphs">HT29</text>
<text x="222.40" y="615.70" font-size="8.8" font-weight="bold" text-anchor="middle" fill="#111" stroke="#111" stroke-width="0.36" textLength="20.20" lengthAdjust="spacingAndGlyphs">RKO</text>
<rect x="95.60" y="459.10" width="12.80" height="6.30" fill="#da0000" stroke="#111" stroke-width="1.1"/>
<rect x="95.60" y="472.90" width="12.80" height="6.30" fill="#0000f0" stroke="#111" stroke-width="1.1"/>
<text x="115.20" y="464.80" font-size="9.75" font-weight="normal" text-anchor="start" fill="#222" stroke="#222" stroke-width="0.3">miR-NC</text>
<text x="115.20" y="479.20" font-size="9.75" font-weight="normal" text-anchor="start" fill="#222" stroke="#222" stroke-width="0.3">miR-323b-3p mimic</text>
<text x="55.00" y="541.50" font-size="7.8" font-weight="bold" text-anchor="middle" fill="#111" stroke="#111" stroke-width="0.15" letter-spacing="0.5" transform="rotate(-90 55.00 541.50)">Relative  LINC00451</text>
<text x="64.80" y="541.50" font-size="7.8" font-weight="bold" text-anchor="middle" fill="#111" stroke="#111" stroke-width="0.15" letter-spacing="0.55" transform="rotate(-90 64.80 541.50)">expression</text>
<line x1="287.10" y1="469.28" x2="287.10" y2="601.00" stroke="#111" stroke-width="1.6" stroke-linecap="butt"/>
<line x1="283.10" y1="470.08" x2="287.10" y2="470.08" stroke="#111" stroke-width="1.25" stroke-linecap="butt"/>
<text x="282.40" y="473.20" font-size="9.3" font-weight="bold" text-anchor="end" fill="#111" stroke="#111" stroke-width="0.36">4</text>
<line x1="283.10" y1="502.61" x2="287.10" y2="502.61" stroke="#111" stroke-width="1.25" stroke-linecap="butt"/>
<text x="282.40" y="505.73" font-size="9.3" font-weight="bold" text-anchor="end" fill="#111" stroke="#111" stroke-width="0.36">3</text>
<line x1="283.10" y1="535.14" x2="287.10" y2="535.14" stroke="#111" stroke-width="1.25" stroke-linecap="butt"/>
<text x="282.40" y="538.26" font-size="9.3" font-weight="bold" text-anchor="end" fill="#111" stroke="#111" stroke-width="0.36">2</text>
<line x1="283.10" y1="567.67" x2="287.10" y2="567.67" stroke="#111" stroke-width="1.25" stroke-linecap="butt"/>
<text x="282.40" y="570.79" font-size="9.3" font-weight="bold" text-anchor="end" fill="#111" stroke="#111" stroke-width="0.36">1</text>
<line x1="283.10" y1="600.20" x2="287.10" y2="600.20" stroke="#111" stroke-width="1.25" stroke-linecap="butt"/>
<text x="282.40" y="603.32" font-size="9.3" font-weight="bold" text-anchor="end" fill="#111" stroke="#111" stroke-width="0.36">0</text>
<line x1="286.30" y1="600.20" x2="487.20" y2="600.20" stroke="#111" stroke-width="1.6" stroke-linecap="butt"/>
<line x1="312.20" y1="600.20" x2="312.20" y2="604.60" stroke="#111" stroke-width="1.4" stroke-linecap="butt"/>
<text x="315.60" y="613.00" font-size="9.3" font-weight="bold" text-anchor="end" fill="#111" stroke="#111" stroke-width="0.12" transform="rotate(-45 315.60 613.00)">0h</text>
<line x1="362.40" y1="600.20" x2="362.40" y2="604.60" stroke="#111" stroke-width="1.4" stroke-linecap="butt"/>
<text x="365.80" y="613.00" font-size="9.3" font-weight="bold" text-anchor="end" fill="#111" stroke="#111" stroke-width="0.12" transform="rotate(-45 365.80 613.00)">24h</text>
<line x1="412.60" y1="600.20" x2="412.60" y2="604.60" stroke="#111" stroke-width="1.4" stroke-linecap="butt"/>
<text x="416.00" y="613.00" font-size="9.3" font-weight="bold" text-anchor="end" fill="#111" stroke="#111" stroke-width="0.12" transform="rotate(-45 416.00 613.00)">48h</text>
<line x1="462.90" y1="600.20" x2="462.90" y2="604.60" stroke="#111" stroke-width="1.4" stroke-linecap="butt"/>
<text x="466.30" y="613.00" font-size="9.3" font-weight="bold" text-anchor="end" fill="#111" stroke="#111" stroke-width="0.12" transform="rotate(-45 466.30 613.00)">72h</text>
<polyline points="312.2,594.9 362.4,588.4 412.6,581.3 462.9,569.5" fill="none" stroke="#1414e0" stroke-width="1.35" stroke-linejoin="round"/>
<circle cx="312.2" cy="594.9" r="2.1" fill="#1414e0"/>
<line x1="362.40" y1="586.60" x2="362.40" y2="590.20" stroke="#1414e0" stroke-width="1.6" stroke-linecap="butt"/>
<circle cx="362.4" cy="588.4" r="2.1" fill="#1414e0"/>
<line x1="412.60" y1="578.60" x2="412.60" y2="584.10" stroke="#1414e0" stroke-width="1.6" stroke-linecap="butt"/>
<circle cx="412.6" cy="581.3" r="2.1" fill="#1414e0"/>
<line x1="462.90" y1="566.00" x2="462.90" y2="573.60" stroke="#1414e0" stroke-width="1.6" stroke-linecap="butt"/>
<circle cx="462.9" cy="569.5" r="2.1" fill="#1414e0"/>
<polyline points="312.2,594.9 362.4,583.9 412.6,571.6 462.9,554.8" fill="none" stroke="#111" stroke-width="1.35" stroke-linejoin="round"/>
<circle cx="312.2" cy="594.9" r="2.4" fill="#111"/>
<line x1="362.40" y1="581.40" x2="362.40" y2="586.40" stroke="#111" stroke-width="1.6" stroke-linecap="butt"/>
<circle cx="362.4" cy="583.9" r="2.4" fill="#111"/>
<line x1="412.60" y1="567.60" x2="412.60" y2="574.30" stroke="#111" stroke-width="1.6" stroke-linecap="butt"/>
<circle cx="412.6" cy="571.6" r="2.4" fill="#111"/>
<line x1="462.90" y1="546.50" x2="462.90" y2="561.50" stroke="#111" stroke-width="1.6" stroke-linecap="butt"/>
<circle cx="462.9" cy="554.8" r="2.4" fill="#111"/>
<rect x="460.7" y="552.6" width="4.4" height="4.4" fill="#111"/>
<polyline points="312.2,594.9 362.4,571.1 412.6,548.2 462.9,509.5" fill="none" stroke="#d42020" stroke-width="1.35" stroke-linejoin="round"/>
<line x1="312.20" y1="591.60" x2="312.20" y2="598.20" stroke="#d42020" stroke-width="1.3" stroke-linecap="butt"/>
<line x1="309.50" y1="591.60" x2="314.90" y2="591.60" stroke="#d42020" stroke-width="1.2" stroke-linecap="butt"/>
<line x1="309.50" y1="598.20" x2="314.90" y2="598.20" stroke="#d42020" stroke-width="1.2" stroke-linecap="butt"/>
<path d="M312.2 593.1 L314.0 596.4 L310.4 596.4 Z" fill="#d42020"/>
<line x1="362.40" y1="567.30" x2="362.40" y2="575.10" stroke="#d42020" stroke-width="1.3" stroke-linecap="butt"/>
<line x1="359.70" y1="567.30" x2="365.10" y2="567.30" stroke="#d42020" stroke-width="1.2" stroke-linecap="butt"/>
<line x1="359.70" y1="575.10" x2="365.10" y2="575.10" stroke="#d42020" stroke-width="1.2" stroke-linecap="butt"/>
<path d="M362.4 569.3 L364.2 572.6 L360.6 572.6 Z" fill="#d42020"/>
<line x1="412.60" y1="540.50" x2="412.60" y2="556.30" stroke="#d42020" stroke-width="1.3" stroke-linecap="butt"/>
<line x1="409.90" y1="540.50" x2="415.30" y2="540.50" stroke="#d42020" stroke-width="1.2" stroke-linecap="butt"/>
<line x1="409.90" y1="556.30" x2="415.30" y2="556.30" stroke="#d42020" stroke-width="1.2" stroke-linecap="butt"/>
<path d="M412.6 546.4 L414.4 549.7 L410.8 549.7 Z" fill="#d42020"/>
<line x1="462.90" y1="499.80" x2="462.90" y2="518.60" stroke="#d42020" stroke-width="1.3" stroke-linecap="butt"/>
<line x1="460.20" y1="499.80" x2="465.60" y2="499.80" stroke="#d42020" stroke-width="1.2" stroke-linecap="butt"/>
<line x1="460.20" y1="518.60" x2="465.60" y2="518.60" stroke="#d42020" stroke-width="1.2" stroke-linecap="butt"/>
<path d="M462.9 507.7 L464.7 511.0 L461.1 511.0 Z" fill="#d42020"/>
<rect x="310.3" y="593.5" width="3.8" height="3.8" fill="#c01a28"/>
<line x1="299.70" y1="479.40" x2="313.20" y2="479.40" stroke="#111" stroke-width="1.5" stroke-linecap="butt"/>
<rect x="304.3" y="477.2" width="4.3" height="4.3" fill="#111"/>
<text x="322.30" y="482.47" font-size="8.3" font-weight="normal" text-anchor="start" fill="#2a2a2a" stroke="#2a2a2a" stroke-width="0.2" textLength="30.00" lengthAdjust="spacingAndGlyphs">miR-NC</text>
<line x1="299.70" y1="494.00" x2="313.20" y2="494.00" stroke="#1414e0" stroke-width="1.5" stroke-linecap="butt"/>
<circle cx="306.4" cy="494.0" r="2.1" fill="#1414e0"/>
<text x="322.30" y="497.07" font-size="8.3" font-weight="normal" text-anchor="start" fill="#2a2a2a" stroke="#2a2a2a" stroke-width="0.2" textLength="74.00" lengthAdjust="spacingAndGlyphs">miR-323b-3p mimic</text>
<line x1="299.70" y1="507.60" x2="313.20" y2="507.60" stroke="#e05050" stroke-width="0.9" stroke-linecap="butt"/>
<path d="M306.4 505.4 L308.6 509.5 L304.2 509.5 Z" fill="#e05050"/>
<text x="322.30" y="510.67" font-size="8.3" font-weight="normal" text-anchor="start" fill="#2a2a2a" stroke="#2a2a2a" stroke-width="0.2" textLength="81.50" lengthAdjust="spacingAndGlyphs">miR-323b-3p inhibitor</text>
<line x1="468.00" y1="512.60" x2="468.00" y2="551.00" stroke="#2a2a2a" stroke-width="1.3" stroke-linecap="butt"/>
<line x1="478.10" y1="509.30" x2="478.10" y2="570.60" stroke="#2a2a2a" stroke-width="1.3" stroke-linecap="butt"/>
<text x="467.29" y="534.60" font-size="12.5" font-weight="bold" text-anchor="middle" fill="#333" stroke="#333" stroke-width="0.36" transform="rotate(90 467.29 534.60)">*</text>
<text x="477.29" y="539.30" font-size="12.5" font-weight="bold" text-anchor="middle" fill="#333" stroke="#333" stroke-width="0.36" transform="rotate(90 477.29 539.30)">*</text>
<text x="270.10" y="535.00" font-size="9.3" font-weight="bold" text-anchor="middle" fill="#111" stroke="#111" stroke-width="0.15" transform="rotate(-90 270.10 535.00)">Cell Viability</text>
<line x1="521.00" y1="477.81" x2="521.00" y2="601.30" stroke="#111" stroke-width="1.6" stroke-linecap="butt"/>
<line x1="517.00" y1="478.61" x2="521.00" y2="478.61" stroke="#111" stroke-width="1.25" stroke-linecap="butt"/>
<text x="516.30" y="481.73" font-size="9.3" font-weight="bold" text-anchor="end" fill="#111" stroke="#111" stroke-width="0.36">3</text>
<line x1="517.00" y1="519.24" x2="521.00" y2="519.24" stroke="#111" stroke-width="1.25" stroke-linecap="butt"/>
<text x="516.30" y="522.36" font-size="9.3" font-weight="bold" text-anchor="end" fill="#111" stroke="#111" stroke-width="0.36">2</text>
<line x1="517.00" y1="559.87" x2="521.00" y2="559.87" stroke="#111" stroke-width="1.25" stroke-linecap="butt"/>
<text x="516.30" y="562.99" font-size="9.3" font-weight="bold" text-anchor="end" fill="#111" stroke="#111" stroke-width="0.36">1</text>
<line x1="517.00" y1="600.50" x2="521.00" y2="600.50" stroke="#111" stroke-width="1.25" stroke-linecap="butt"/>
<text x="516.30" y="603.62" font-size="9.3" font-weight="bold" text-anchor="end" fill="#111" stroke="#111" stroke-width="0.36">0</text>
<line x1="520.20" y1="600.50" x2="705.30" y2="600.50" stroke="#111" stroke-width="1.6" stroke-linecap="butt"/>
<line x1="543.60" y1="600.50" x2="543.60" y2="604.90" stroke="#111" stroke-width="1.4" stroke-linecap="butt"/>
<text x="547.00" y="613.30" font-size="9.3" font-weight="bold" text-anchor="end" fill="#111" stroke="#111" stroke-width="0.12" transform="rotate(-45 547.00 613.30)">0h</text>
<line x1="589.40" y1="600.50" x2="589.40" y2="604.90" stroke="#111" stroke-width="1.4" stroke-linecap="butt"/>
<text x="592.80" y="613.30" font-size="9.3" font-weight="bold" text-anchor="end" fill="#111" stroke="#111" stroke-width="0.12" transform="rotate(-45 592.80 613.30)">24h</text>
<line x1="635.40" y1="600.50" x2="635.40" y2="604.90" stroke="#111" stroke-width="1.4" stroke-linecap="butt"/>
<text x="638.80" y="613.30" font-size="9.3" font-weight="bold" text-anchor="end" fill="#111" stroke="#111" stroke-width="0.12" transform="rotate(-45 638.80 613.30)">48h</text>
<line x1="681.20" y1="600.50" x2="681.20" y2="604.90" stroke="#111" stroke-width="1.4" stroke-linecap="butt"/>
<text x="684.60" y="613.30" font-size="9.3" font-weight="bold" text-anchor="end" fill="#111" stroke="#111" stroke-width="0.12" transform="rotate(-45 684.60 613.30)">72h</text>
<polyline points="543.6,596.0 589.4,577.9 635.4,551.7 681.2,502.8" fill="none" stroke="#111" stroke-width="1.35" stroke-linejoin="round"/>
<rect x="541.2" y="593.6" width="4.8" height="4.8" fill="#111"/>
<line x1="589.40" y1="572.60" x2="589.40" y2="584.40" stroke="#111" stroke-width="1.3" stroke-linecap="butt"/>
<line x1="586.70" y1="572.60" x2="592.10" y2="572.60" stroke="#111" stroke-width="1.2" stroke-linecap="butt"/>
<line x1="586.70" y1="584.40" x2="592.10" y2="584.40" stroke="#111" stroke-width="1.2" stroke-linecap="butt"/>
<rect x="587.0" y="575.5" width="4.8" height="4.8" fill="#111"/>
<line x1="635.40" y1="543.30" x2="635.40" y2="560.20" stroke="#111" stroke-width="1.3" stroke-linecap="butt"/>
<line x1="632.70" y1="543.30" x2="638.10" y2="543.30" stroke="#111" stroke-width="1.2" stroke-linecap="butt"/>
<line x1="632.70" y1="560.20" x2="638.10" y2="560.20" stroke="#111" stroke-width="1.2" stroke-linecap="butt"/>
<rect x="633.0" y="549.3" width="4.8" height="4.8" fill="#111"/>
<line x1="681.20" y1="495.50" x2="681.20" y2="510.20" stroke="#111" stroke-width="1.3" stroke-linecap="butt"/>
<line x1="678.50" y1="495.50" x2="683.90" y2="495.50" stroke="#111" stroke-width="1.2" stroke-linecap="butt"/>
<line x1="678.50" y1="510.20" x2="683.90" y2="510.20" stroke="#111" stroke-width="1.2" stroke-linecap="butt"/>
<rect x="678.8" y="500.4" width="4.8" height="4.8" fill="#111"/>
<polyline points="543.6,596.0 589.4,592.2 635.4,583.2 681.2,566.1" fill="none" stroke="#1414e0" stroke-width="1.35" stroke-linejoin="round"/>
<circle cx="543.6" cy="596.0" r="2.3" fill="#1414e0"/>
<circle cx="589.4" cy="592.2" r="2.3" fill="#1414e0"/>
<line x1="635.40" y1="578.60" x2="635.40" y2="586.80" stroke="#1414e0" stroke-width="1.3" stroke-linecap="butt"/>
<line x1="632.70" y1="578.60" x2="638.10" y2="578.60" stroke="#1414e0" stroke-width="1.2" stroke-linecap="butt"/>
<line x1="632.70" y1="586.80" x2="638.10" y2="586.80" stroke="#1414e0" stroke-width="1.2" stroke-linecap="butt"/>
<circle cx="635.4" cy="583.2" r="2.3" fill="#1414e0"/>
<line x1="681.20" y1="559.60" x2="681.20" y2="572.60" stroke="#1414e0" stroke-width="1.3" stroke-linecap="butt"/>
<line x1="678.50" y1="559.60" x2="683.90" y2="559.60" stroke="#1414e0" stroke-width="1.2" stroke-linecap="butt"/>
<line x1="678.50" y1="572.60" x2="683.90" y2="572.60" stroke="#1414e0" stroke-width="1.2" stroke-linecap="butt"/>
<circle cx="681.2" cy="566.1" r="2.3" fill="#1414e0"/>
<polyline points="543.6,596.0 589.4,584.3 635.4,572.9 681.2,540.3" fill="none" stroke="#d42020" stroke-width="1.35" stroke-linejoin="round"/>
<path d="M543.6 593.9 L545.7 597.8 L541.5 597.8 Z" fill="#d42020"/>
<line x1="589.40" y1="580.50" x2="589.40" y2="588.00" stroke="#d42020" stroke-width="1.3" stroke-linecap="butt"/>
<line x1="586.70" y1="580.50" x2="592.10" y2="580.50" stroke="#d42020" stroke-width="1.2" stroke-linecap="butt"/>
<line x1="586.70" y1="588.00" x2="592.10" y2="588.00" stroke="#d42020" stroke-width="1.2" stroke-linecap="butt"/>
<path d="M589.4 582.2 L591.5 586.1 L587.3 586.1 Z" fill="#d42020"/>
<line x1="635.40" y1="565.10" x2="635.40" y2="577.80" stroke="#d42020" stroke-width="1.3" stroke-linecap="butt"/>
<line x1="632.70" y1="565.10" x2="638.10" y2="565.10" stroke="#d42020" stroke-width="1.2" stroke-linecap="butt"/>
<line x1="632.70" y1="577.80" x2="638.10" y2="577.80" stroke="#d42020" stroke-width="1.2" stroke-linecap="butt"/>
<path d="M635.4 570.8 L637.5 574.7 L633.3 574.7 Z" fill="#d42020"/>
<line x1="681.20" y1="534.60" x2="681.20" y2="543.00" stroke="#d42020" stroke-width="1.3" stroke-linecap="butt"/>
<line x1="678.50" y1="534.60" x2="683.90" y2="534.60" stroke="#d42020" stroke-width="1.2" stroke-linecap="butt"/>
<line x1="678.50" y1="543.00" x2="683.90" y2="543.00" stroke="#d42020" stroke-width="1.2" stroke-linecap="butt"/>
<path d="M681.2 538.2 L683.3 542.1 L679.1 542.1 Z" fill="#d42020"/>
<polyline points="543.6,595.3 589.4,582.2 635.4,576.2 681.2,536.3" fill="none" stroke="#84f542" stroke-width="1.6" stroke-linejoin="round"/>
<path d="M543.6 597.6 L545.9 593.3 L541.3 593.3 Z" fill="#84f542"/>
<line x1="589.40" y1="574.00" x2="589.40" y2="588.50" stroke="#84f542" stroke-width="1.3" stroke-linecap="butt"/>
<line x1="586.30" y1="574.00" x2="592.50" y2="574.00" stroke="#84f542" stroke-width="1.2" stroke-linecap="butt"/>
<line x1="586.30" y1="588.50" x2="592.50" y2="588.50" stroke="#84f542" stroke-width="1.2" stroke-linecap="butt"/>
<path d="M589.4 584.5 L591.7 580.2 L587.1 580.2 Z" fill="#84f542"/>
<line x1="635.40" y1="568.90" x2="635.40" y2="586.80" stroke="#84f542" stroke-width="1.3" stroke-linecap="butt"/>
<line x1="632.30" y1="568.90" x2="638.50" y2="568.90" stroke="#84f542" stroke-width="1.2" stroke-linecap="butt"/>
<line x1="632.30" y1="586.80" x2="638.50" y2="586.80" stroke="#84f542" stroke-width="1.2" stroke-linecap="butt"/>
<path d="M635.4 578.5 L637.7 574.2 L633.1 574.2 Z" fill="#84f542"/>
<line x1="681.20" y1="528.60" x2="681.20" y2="546.00" stroke="#84f542" stroke-width="1.3" stroke-linecap="butt"/>
<line x1="678.10" y1="528.60" x2="684.30" y2="528.60" stroke="#84f542" stroke-width="1.2" stroke-linecap="butt"/>
<line x1="678.10" y1="546.00" x2="684.30" y2="546.00" stroke="#84f542" stroke-width="1.2" stroke-linecap="butt"/>
<path d="M681.2 538.6 L683.5 534.3 L678.9 534.3 Z" fill="#84f542"/>
<line x1="525.50" y1="428.80" x2="539.10" y2="428.80" stroke="#111" stroke-width="1.5" stroke-linecap="butt"/>
<rect x="529.9" y="426.4" width="4.8" height="4.8" fill="#111"/>
<text x="546.30" y="431.69" font-size="7.8" font-weight="normal" text-anchor="start" fill="#2a2a2a" stroke="#2a2a2a" stroke-width="0.2" textLength="50.90" lengthAdjust="spacingAndGlyphs">si-NC+miR-NC</text>
<line x1="525.50" y1="444.00" x2="539.10" y2="444.00" stroke="#1414e0" stroke-width="1.5" stroke-linecap="butt"/>
<circle cx="532.3" cy="444.0" r="2.3" fill="#1414e0"/>
<text x="546.30" y="446.89" font-size="7.8" font-weight="normal" text-anchor="start" fill="#2a2a2a" stroke="#2a2a2a" stroke-width="0.2" textLength="79.20" lengthAdjust="spacingAndGlyphs">si-LING00461+miR-NC</text>
<line x1="525.50" y1="458.40" x2="539.10" y2="458.40" stroke="#d42020" stroke-width="1.5" stroke-linecap="butt"/>
<path d="M532.3 455.9 L534.8 460.6 L529.8 460.6 Z" fill="#d42020"/>
<text x="546.30" y="461.29" font-size="7.8" font-weight="normal" text-anchor="start" fill="#2a2a2a" stroke="#2a2a2a" stroke-width="0.2" textLength="133.40" lengthAdjust="spacingAndGlyphs">si-LING00461-1+miR-323b-3p inhibitor</text>
<line x1="525.50" y1="472.00" x2="539.10" y2="472.00" stroke="#84f542" stroke-width="1.5" stroke-linecap="butt"/>
<path d="M532.3 474.5 L534.8 469.8 L529.8 469.8 Z" fill="#84f542"/>
<text x="546.30" y="474.89" font-size="7.8" font-weight="normal" text-anchor="start" fill="#2a2a2a" stroke="#2a2a2a" stroke-width="0.2" textLength="133.40" lengthAdjust="spacingAndGlyphs">si-LING00461-2+miR-323b-3p inhibitor</text>
<line x1="687.40" y1="536.70" x2="687.40" y2="564.50" stroke="#222" stroke-width="1.3" stroke-linecap="butt"/>
<line x1="700.10" y1="506.10" x2="700.10" y2="567.60" stroke="#222" stroke-width="1.3" stroke-linecap="butt"/>
<text x="686.09" y="549.60" font-size="12.5" font-weight="bold" text-anchor="middle" fill="#333" stroke="#333" stroke-width="0.36" transform="rotate(90 686.09 549.60)">*</text>
<text x="699.39" y="536.20" font-size="12.5" font-weight="bold" text-anchor="middle" fill="#333" stroke="#333" stroke-width="0.36" letter-spacing="1.6" transform="rotate(90 699.39 536.20)">**</text>
<text x="505.40" y="539.30" font-size="9.85" font-weight="bold" text-anchor="middle" fill="#111" stroke="#111" stroke-width="0.15" transform="rotate(-90 505.40 539.30)">Cell Viability</text>
<line x1="743.60" y1="474.19" x2="743.60" y2="602.30" stroke="#111" stroke-width="1.6" stroke-linecap="butt"/>
<line x1="739.60" y1="474.99" x2="743.60" y2="474.99" stroke="#111" stroke-width="1.25" stroke-linecap="butt"/>
<text x="738.90" y="478.11" font-size="9.3" font-weight="bold" text-anchor="end" fill="#111" stroke="#111" stroke-width="0.36">3</text>
<line x1="739.60" y1="517.16" x2="743.60" y2="517.16" stroke="#111" stroke-width="1.25" stroke-linecap="butt"/>
<text x="738.90" y="520.28" font-size="9.3" font-weight="bold" text-anchor="end" fill="#111" stroke="#111" stroke-width="0.36">2</text>
<line x1="739.60" y1="559.33" x2="743.60" y2="559.33" stroke="#111" stroke-width="1.25" stroke-linecap="butt"/>
<text x="738.90" y="562.45" font-size="9.3" font-weight="bold" text-anchor="end" fill="#111" stroke="#111" stroke-width="0.36">1</text>
<line x1="739.60" y1="601.50" x2="743.60" y2="601.50" stroke="#111" stroke-width="1.25" stroke-linecap="butt"/>
<text x="738.90" y="604.62" font-size="9.3" font-weight="bold" text-anchor="end" fill="#111" stroke="#111" stroke-width="0.36">0</text>
<line x1="742.80" y1="601.50" x2="945.40" y2="601.50" stroke="#111" stroke-width="1.6" stroke-linecap="butt"/>
<line x1="769.40" y1="601.50" x2="769.40" y2="605.90" stroke="#111" stroke-width="1.4" stroke-linecap="butt"/>
<text x="772.80" y="614.30" font-size="9.3" font-weight="bold" text-anchor="end" fill="#111" stroke="#111" stroke-width="0.12" transform="rotate(-45 772.80 614.30)">0h</text>
<line x1="819.80" y1="601.50" x2="819.80" y2="605.90" stroke="#111" stroke-width="1.4" stroke-linecap="butt"/>
<text x="823.20" y="614.30" font-size="9.3" font-weight="bold" text-anchor="end" fill="#111" stroke="#111" stroke-width="0.12" transform="rotate(-45 823.20 614.30)">24h</text>
<line x1="869.80" y1="601.50" x2="869.80" y2="605.90" stroke="#111" stroke-width="1.4" stroke-linecap="butt"/>
<text x="873.20" y="614.30" font-size="9.3" font-weight="bold" text-anchor="end" fill="#111" stroke="#111" stroke-width="0.12" transform="rotate(-45 873.20 614.30)">48h</text>
<line x1="920.10" y1="601.50" x2="920.10" y2="605.90" stroke="#111" stroke-width="1.4" stroke-linecap="butt"/>
<text x="923.50" y="614.30" font-size="9.3" font-weight="bold" text-anchor="end" fill="#111" stroke="#111" stroke-width="0.12" transform="rotate(-45 923.50 614.30)">72h</text>
<polyline points="769.4,596.7 819.8,587.7 869.8,575.4 920.1,551.5" fill="none" stroke="#1414e0" stroke-width="1.35" stroke-linejoin="round"/>
<circle cx="769.4" cy="596.7" r="1.9" fill="#1414e0"/>
<line x1="819.80" y1="585.60" x2="819.80" y2="589.80" stroke="#1414e0" stroke-width="1.6" stroke-linecap="butt"/>
<circle cx="819.8" cy="587.7" r="1.9" fill="#1414e0"/>
<line x1="869.80" y1="572.20" x2="869.80" y2="580.30" stroke="#1414e0" stroke-width="1.6" stroke-linecap="butt"/>
<circle cx="869.8" cy="575.4" r="1.9" fill="#1414e0"/>
<line x1="920.10" y1="544.50" x2="920.10" y2="558.40" stroke="#1414e0" stroke-width="1.6" stroke-linecap="butt"/>
<circle cx="920.1" cy="551.5" r="1.9" fill="#1414e0"/>
<polyline points="769.4,596.7 819.8,578.7 869.8,560.8 920.1,526.1" fill="none" stroke="#111" stroke-width="1.35" stroke-linejoin="round"/>
<rect x="767.5" y="594.8" width="3.8" height="3.8" fill="#111"/>
<line x1="819.80" y1="576.00" x2="819.80" y2="581.60" stroke="#111" stroke-width="1.6" stroke-linecap="butt"/>
<rect x="817.9" y="576.8" width="3.8" height="3.8" fill="#111"/>
<line x1="869.80" y1="560.00" x2="869.80" y2="569.80" stroke="#111" stroke-width="1.6" stroke-linecap="butt"/>
<rect x="867.9" y="558.9" width="3.8" height="3.8" fill="#111"/>
<line x1="920.10" y1="524.20" x2="920.10" y2="534.00" stroke="#111" stroke-width="1.6" stroke-linecap="butt"/>
<rect x="918.2" y="524.2" width="3.8" height="3.8" fill="#111"/>
<polyline points="769.4,596.7 819.8,573.3 869.8,551.8 920.1,519.6" fill="none" stroke="#d42020" stroke-width="1.35" stroke-linejoin="round"/>
<line x1="769.40" y1="594.30" x2="769.40" y2="599.20" stroke="#d42020" stroke-width="1.3" stroke-linecap="butt"/>
<line x1="766.70" y1="594.30" x2="772.10" y2="594.30" stroke="#d42020" stroke-width="1.2" stroke-linecap="butt"/>
<line x1="766.70" y1="599.20" x2="772.10" y2="599.20" stroke="#d42020" stroke-width="1.2" stroke-linecap="butt"/>
<path d="M769.4 594.9 L771.2 598.2 L767.6 598.2 Z" fill="#d42020"/>
<line x1="819.80" y1="564.40" x2="819.80" y2="582.30" stroke="#d42020" stroke-width="1.3" stroke-linecap="butt"/>
<line x1="817.10" y1="564.40" x2="822.50" y2="564.40" stroke="#d42020" stroke-width="1.2" stroke-linecap="butt"/>
<line x1="817.10" y1="582.30" x2="822.50" y2="582.30" stroke="#d42020" stroke-width="1.2" stroke-linecap="butt"/>
<path d="M819.8 571.5 L821.6 574.8 L818.0 574.8 Z" fill="#d42020"/>
<line x1="869.80" y1="543.40" x2="869.80" y2="559.20" stroke="#d42020" stroke-width="1.3" stroke-linecap="butt"/>
<line x1="867.10" y1="543.40" x2="872.50" y2="543.40" stroke="#d42020" stroke-width="1.2" stroke-linecap="butt"/>
<line x1="867.10" y1="559.20" x2="872.50" y2="559.20" stroke="#d42020" stroke-width="1.2" stroke-linecap="butt"/>
<path d="M869.8 550.0 L871.6 553.3 L868.0 553.3 Z" fill="#d42020"/>
<line x1="920.10" y1="512.50" x2="920.10" y2="525.50" stroke="#d42020" stroke-width="1.3" stroke-linecap="butt"/>
<line x1="917.40" y1="512.50" x2="922.80" y2="512.50" stroke="#d42020" stroke-width="1.2" stroke-linecap="butt"/>
<line x1="917.40" y1="525.50" x2="922.80" y2="525.50" stroke="#d42020" stroke-width="1.2" stroke-linecap="butt"/>
<path d="M920.1 517.8 L921.9 521.1 L918.3 521.1 Z" fill="#d42020"/>
<rect x="767.4" y="594.6" width="4.0" height="4.0" fill="#b01228"/>
<line x1="757.20" y1="465.70" x2="771.60" y2="465.70" stroke="#111" stroke-width="1.5" stroke-linecap="butt"/>
<rect x="762.3" y="463.6" width="4.3" height="4.3" fill="#111"/>
<text x="779.80" y="468.66" font-size="8.0" font-weight="normal" text-anchor="start" fill="#2a2a2a" stroke="#2a2a2a" stroke-width="0.2" textLength="56.60" lengthAdjust="spacingAndGlyphs">miR-NC+si-NC</text>
<line x1="757.20" y1="481.40" x2="771.60" y2="481.40" stroke="#1414e0" stroke-width="1.5" stroke-linecap="butt"/>
<circle cx="764.4" cy="481.4" r="2.1" fill="#1414e0"/>
<text x="779.80" y="484.36" font-size="8.0" font-weight="normal" text-anchor="start" fill="#2a2a2a" stroke="#2a2a2a" stroke-width="0.2" textLength="119.50" lengthAdjust="spacingAndGlyphs">miR-323b-3p mimic+pcDNA3.1</text>
<line x1="757.20" y1="493.40" x2="771.60" y2="493.40" stroke="#d42020" stroke-width="1.5" stroke-linecap="butt"/>
<path d="M764.4 490.9 L766.9 495.5 L762.0 495.5 Z" fill="#d42020"/>
<text x="779.80" y="496.36" font-size="8.0" font-weight="normal" text-anchor="start" fill="#2a2a2a" stroke="#2a2a2a" stroke-width="0.2" textLength="131.90" lengthAdjust="spacingAndGlyphs">miR-323b-3p mimic+pcLING00461</text>
<line x1="925.00" y1="525.50" x2="925.00" y2="550.50" stroke="#222" stroke-width="1.3" stroke-linecap="butt"/>
<line x1="935.40" y1="516.90" x2="935.40" y2="549.90" stroke="#222" stroke-width="1.3" stroke-linecap="butt"/>
<text x="923.49" y="538.00" font-size="12.5" font-weight="bold" text-anchor="middle" fill="#333" stroke="#333" stroke-width="0.36" transform="rotate(90 923.49 538.00)">*</text>
<text x="934.99" y="534.40" font-size="12.5" font-weight="bold" text-anchor="middle" fill="#333" stroke="#333" stroke-width="0.36" transform="rotate(90 934.99 534.40)">*</text>
<text x="727.80" y="538.00" font-size="9.3" font-weight="bold" text-anchor="middle" fill="#111" stroke="#111" stroke-width="0.15" transform="rotate(-90 727.80 538.00)">Cell Viability</text>
</g>
<text x="13.50" y="661.10" font-size="12.2" font-weight="normal" text-anchor="start" fill="#000" stroke="#000" stroke-width="0.2" textLength="936.90" lengthAdjust="spacingAndGlyphs" word-spacing="1.5"><tspan font-weight="bold">Figure 3</tspan> LINC00461 directly interacts with miR-323b-3p in CRC cells. (<tspan font-weight="bold">A</tspan>) The binding sequence of 3′UTR LINC00461-wild type and LINC00461-mutant type and miR-</text>
<text x="13.50" y="678.41" font-size="12.2" font-weight="normal" text-anchor="start" fill="#000" stroke="#000" stroke-width="0.2" textLength="938.20" lengthAdjust="spacingAndGlyphs" word-spacing="1.5">323b-3p. (<tspan font-weight="bold">B</tspan>) Luciferase reporter assay was performed in DLD-1 cells; results showed miR-323b-3p is a target of LINC00461. (<tspan font-weight="bold">C</tspan>) Expression level of miR-323b-3p was</text>
<text x="13.50" y="695.72" font-size="12.2" font-weight="normal" text-anchor="start" fill="#000" stroke="#000" stroke-width="0.2" textLength="938.20" lengthAdjust="spacingAndGlyphs" word-spacing="1.5">decreased in CRC tumor tissues compared with normal adjacent normal tissue specimens by qRT-PCR (n=30). (<tspan font-weight="bold">D</tspan>) Expression level of miR-323b-3p in CRC cell lines and</text>
<text x="13.50" y="713.03" font-size="12.2" font-weight="normal" text-anchor="start" fill="#000" stroke="#000" stroke-width="0.2" textLength="938.20" lengthAdjust="spacingAndGlyphs" word-spacing="1.5">normal cell. (<tspan font-weight="bold">E</tspan>) Pearson’s correlation between miR-323b-3p and LINC00461 in CRC tumor tissues. (<tspan font-weight="bold">F</tspan>) The expression of miR-323b-3p was measured in DLD-1 and SW480</text>
<text x="13.50" y="730.34" font-size="12.2" font-weight="normal" text-anchor="start" fill="#000" stroke="#000" stroke-width="0.2" textLength="938.20" lengthAdjust="spacingAndGlyphs" word-spacing="1.5">cells transfected with si-NC or si-LINC00461. (<tspan font-weight="bold">G</tspan>) LINC00461 expression was measured in RKO and HT29 cells transfected with miR-NC and miR-323b-3p mimics. (<tspan font-weight="bold">H</tspan>)</text>
<text x="13.50" y="747.65" font-size="12.2" font-weight="normal" text-anchor="start" fill="#000" stroke="#000" stroke-width="0.2" textLength="938.20" lengthAdjust="spacingAndGlyphs" word-spacing="1.5">The effect of miR-323b-3p was explored on proliferation of DLD-1 cells transfected with miR-323b-3p mimics or inhibitor by CCK8, respectively. (<tspan font-weight="bold">I</tspan>) The proliferation</text>
<text x="13.50" y="764.96" font-size="12.2" font-weight="normal" text-anchor="start" fill="#000" stroke="#000" stroke-width="0.2" textLength="938.20" lengthAdjust="spacingAndGlyphs" word-spacing="1.5">capacity was reduced in DLD-1 cells transfected si-LINC00461; miR-323b-3p inhibitor rescued the inhibition effect of si-LINC00461 partially. (<tspan font-weight="bold">J</tspan>) The proliferation capacity</text>
<text x="13.50" y="782.27" font-size="12.2" font-weight="normal" text-anchor="start" fill="#000" stroke="#000" stroke-width="0.2" textLength="898.30" lengthAdjust="spacingAndGlyphs" word-spacing="1.5">was reduced in DLD-1 cells transfected with miR-323b-3p mimics, pcLINC00461 rescued the inhibition effect of miR-323b-3p. *p&lt;0.05, **p&lt;0.01 and ***p&lt;0.001.</text>
</svg></body></html>
